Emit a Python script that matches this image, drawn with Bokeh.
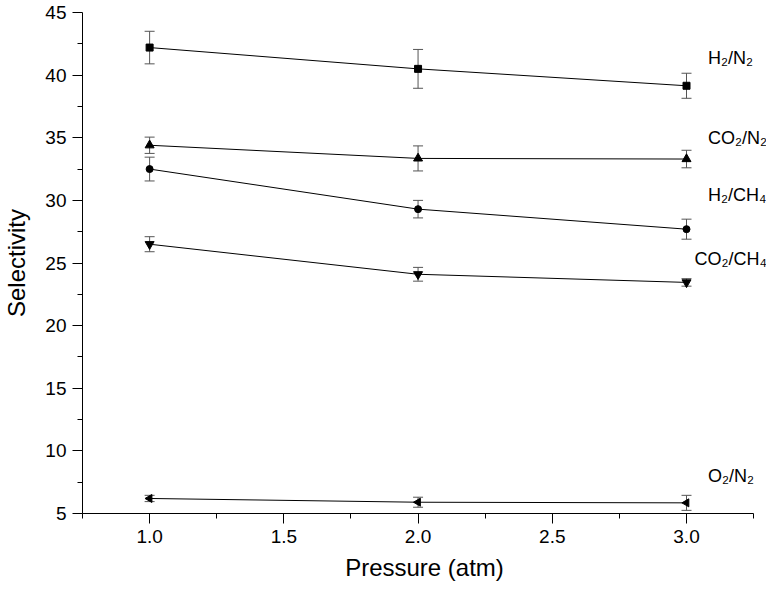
from bokeh.plotting import figure
from bokeh.models import ColumnDataSource, Whisker, TeeHead, FixedTicker, Range1d, LabelSet
from bokeh.core.properties import value
from bokeh.embed import file_html
from bokeh.resources import INLINE

# ---- data ----
pressure = [1.0, 2.0, 3.0]

h2_n2 = [42.2, 40.5, 39.15]
h2_n2_err = [1.3, 1.55, 1.0]

co2_n2 = [34.4, 33.35, 33.3]
co2_n2_err = [0.65, 1.0, 0.7]

h2_ch4 = [32.5, 29.3, 27.7]
h2_ch4_err = [0.95, 0.7, 0.8]

co2_ch4 = [26.5, 24.1, 23.45]
co2_ch4_err = [0.6, 0.55, 0.3]

o2_n2 = [6.2, 5.9, 5.85]
o2_n2_err = [0.25, 0.4, 0.6]

series_names = ["H\u2082/N\u2082", "CO\u2082/N\u2082", "H\u2082/CH\u2084", "CO\u2082/CH\u2084", "O\u2082/N\u2082"]
series_values = [h2_n2, co2_n2, h2_ch4, co2_ch4, o2_n2]
series_errors = [h2_n2_err, co2_n2_err, h2_ch4_err, co2_ch4_err, o2_n2_err]
series_markers = ["square", "triangle", "circle", "inverted_triangle", "triangle"]
marker_sizes = [7, 9, 7, 9, 8]
marker_angles = [0, 0, 0, 0, 1.5708]

label_x = [3.08, 3.08, 3.08, 3.03, 3.08]
label_y = [41.4, 35.0, 30.4, 25.3, 8.0]

x_ticks = [1.0, 1.5, 2.0, 2.5, 3.0]
x_tick_labels = ["1.0", "1.5", "2.0", "2.5", "3.0"]
x_minor = [0.75, 1.25, 1.75, 2.25, 2.75, 3.25]
x_axis_bounds = (0.75, 3.25)
y_ticks = [5, 10, 15, 20, 25, 30, 35, 40, 45]
y_minor = [7.5, 12.5, 17.5, 22.5, 27.5, 32.5, 37.5, 42.5]

FONT = "Liberation Sans"

p = figure(width=766, height=588, output_backend="svg", toolbar_location=None,
           x_range=Range1d(0.75, 3.298), y_range=Range1d(5, 45),
           min_border_left=70, min_border_right=0, min_border_top=12, min_border_bottom=75)
p.outline_line_color = None
p.xgrid.visible = False
p.ygrid.visible = False
p.background_fill_color = "white"
p.border_fill_color = "white"

for ax in (p.xaxis[0], p.yaxis[0]):
    ax.axis_line_color = "black"
    ax.major_tick_line_color = "black"
    ax.minor_tick_line_color = "black"
    ax.major_tick_in = 0
    ax.major_tick_out = 10
    ax.minor_tick_in = 0
    ax.minor_tick_out = 5
    ax.major_label_text_font = FONT
    ax.major_label_text_font_size = "19px"
    ax.major_label_text_color = "black"
    ax.axis_label_text_font = FONT
    ax.axis_label_text_font_style = "normal"
    ax.axis_label_text_font_size = "24px"
    ax.axis_label_text_color = "black"

p.xaxis.ticker = FixedTicker(ticks=x_ticks, minor_ticks=x_minor)
p.xaxis.major_label_overrides = dict(zip(x_ticks, x_tick_labels))
p.xaxis.bounds = x_axis_bounds
p.yaxis.ticker = FixedTicker(ticks=y_ticks, minor_ticks=y_minor)
p.xaxis.axis_label = "Pressure (atm)"
p.yaxis.axis_label = "Selectivity"
p.xaxis.major_label_standoff = 6
p.xaxis.axis_label_standoff = 8
p.yaxis.major_label_standoff = 6
p.yaxis.axis_label_standoff = 12

for vals, errs, mk, ms, ang in zip(series_values, series_errors, series_markers, marker_sizes, marker_angles):
    src = ColumnDataSource(dict(
        x=pressure, y=vals,
        upper=[v + e for v, e in zip(vals, errs)],
        lower=[v - e for v, e in zip(vals, errs)],
    ))
    p.line("x", "y", source=src, line_color="black", line_width=1)
    w = Whisker(base="x", upper="upper", lower="lower", source=src,
                line_color="#555555", line_width=1,
                upper_head=TeeHead(size=10, line_color="#555555", line_width=1),
                lower_head=TeeHead(size=10, line_color="#555555", line_width=1))
    p.add_layout(w)
    p.scatter("x", "y", source=src, marker=mk, size=ms, angle=ang,
              fill_color="black", line_color="black")

lab_src = ColumnDataSource(dict(x=label_x, y=label_y, text=series_names))
labels = LabelSet(x="x", y="y", text="text", source=lab_src, text_font=value(FONT),
                  text_font_size="18px", text_color="black", text_baseline="middle",
                  text_align="left")
p.add_layout(labels)

open("out.html", "w").write(file_html(p, INLINE))
